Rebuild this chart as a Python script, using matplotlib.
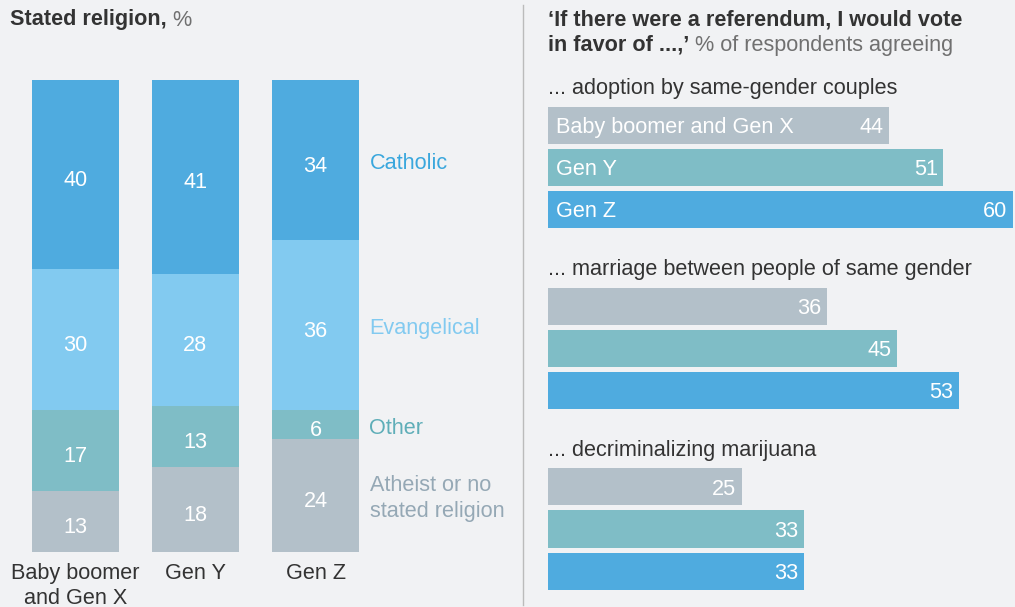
import matplotlib
matplotlib.use("Agg")
import matplotlib.pyplot as plt
import numpy as np

plt.rcParams['font.family'] = ['Liberation Sans', 'DejaVu Sans']

# ---- data ----
generations = ["Baby boomer\nand Gen X", "Gen Y", "Gen Z"]
religions = ["Catholic", "Evangelical", "Other", "Atheist or no\nstated religion"]
catholic = [40, 41, 34]
evangelical = [30, 28, 36]
other = [17, 13, 6]
atheist = [13, 18, 24]

topics = ["... adoption by same-gender couples",
          "... marriage between people of same gender",
          "... decriminalizing marijuana"]
bar_groups = ["Baby boomer and Gen X", "Gen Y", "Gen Z"]
adoption = [44, 51, 60]
marriage = [36, 45, 53]
marijuana = [25, 33, 33]

# ---- style ----
BG = "#F1F2F4"
C_CATH = "#4FABDF"
C_EVAN = "#82CAF0"
C_OTH = "#7FBDC6"
C_ATH = "#B3C0C9"
seg_colors = [C_CATH, C_EVAN, C_OTH, C_ATH]
label_colors = ["#3AA7DD", "#82CAF0", "#5FAEB8", "#95A8B5"]
DARK = "#333333"
GREY = "#707070"
FS = 15.6

W, H = 1015, 607
fig = plt.figure(figsize=(W / 100, H / 100), dpi=100, facecolor=BG)

def fx(px):
    return px / W

def fy(py):
    return 1 - py / H

# ---- left panel: stacked columns ----
top_px, bot_px = 80, 552
axL = fig.add_axes([0, fy(bot_px), fx(520), (bot_px - top_px) / H])
axL.set_facecolor("none")
xs = np.arange(len(generations))
axL.set_xlim((0 - 75.5) / 120, (520 - 75.5) / 120)
axL.set_ylim(0, 100)
axL.axis("off")

stack = [catholic, evangelical, other, atheist]  # from top
bottoms = np.zeros(len(generations))
segments = []
for vals, col in zip(stack[::-1], seg_colors[::-1]):
    v = np.array(vals, dtype=float)
    axL.bar(xs, v, bottom=bottoms, width=0.725, color=col, linewidth=0)
    for i in range(len(xs)):
        axL.annotate(f"{int(v[i])}", xy=(xs[i], bottoms[i] + v[i] / 2),
                     xytext=(0, -2.5), textcoords="offset points",
                     ha="center", va="center_baseline", color="white",
                     fontsize=FS)
    segments.append((bottoms.copy(), v))
    bottoms += v
segments = segments[::-1]  # top-first order

# legend labels next to Gen Z
for (b, v), name, lc in zip(segments, religions, label_colors):
    axL.annotate(name, xy=(xs[-1] + 0.45, b[-1] + v[-1] / 2),
                 xytext=(0, -2.5), textcoords="offset points",
                 ha="left", va="center", color=lc, fontsize=FS,
                 linespacing=1.3)

for i, g in enumerate(generations):
    axL.annotate(g, xy=(xs[i], 0), xytext=(0, -8), textcoords="offset points",
                 ha="center", va="top", color=DARK, fontsize=FS,
                 linespacing=1.22)

t1 = fig.text(fx(10), fy(20), "Stated religion,", ha="left", va="center",
              fontsize=FS, fontweight="bold", color=DARK)
axL.annotate(" %", xy=(1, 0.5), xycoords=t1, ha="left", va="center",
             fontsize=FS, color=GREY)

# divider
fig.add_artist(plt.Line2D([fx(523), fx(523)], [fy(5), fy(605)],
                          color="#BBBBBB", linewidth=1))

# ---- right panel: horizontal bars ----
unit = 42.0
y0_px = 125.0
top_lim_px, bot_lim_px = 60, 600
axR = fig.add_axes([fx(548), fy(bot_lim_px), fx(W - 548),
                    (bot_lim_px - top_lim_px) / H])
axR.set_facecolor("none")
axR.set_xlim(0, (W - 548) / 7.75)
axR.set_ylim((bot_lim_px - y0_px) / unit, (top_lim_px - y0_px) / unit)
axR.axis("off")

bar_colors = [C_ATH, C_OTH, C_CATH]
group_gap = 181 / unit
for g, (topic, vals) in enumerate(zip(topics, [adoption, marriage, marijuana])):
    base = g * group_gap
    axR.text(0, base - 0.88, topic, ha="left", va="center", color=DARK,
             fontsize=FS)
    ys = base + np.arange(len(vals))
    axR.barh(ys, vals, height=37 / unit, color=bar_colors, linewidth=0)
    for i, v in enumerate(vals):
        axR.annotate(f"{v}", xy=(v, ys[i]), xytext=(-4, 0),
                     textcoords="offset points", ha="right",
                     va="center_baseline", color="white", fontsize=FS)
        if g == 0:
            axR.annotate(bar_groups[i], xy=(0, ys[i]), xytext=(6, 0),
                         textcoords="offset points", ha="left",
                         va="center_baseline", color="white", fontsize=FS)

r1 = fig.text(fx(548), fy(20), "\u2018If there were a referendum, I would vote",
              ha="left", va="center", fontsize=FS, fontweight="bold",
              color=DARK)
r2 = fig.text(fx(548), fy(45), "in favor of ...,\u2019", ha="left",
              va="center", fontsize=FS, fontweight="bold", color=DARK)
axR.annotate(" % of respondents agreeing", xy=(1, 0.5), xycoords=r2,
             ha="left", va="center", fontsize=FS, color=GREY)

fig.savefig("out.png", dpi=100, facecolor=BG)
